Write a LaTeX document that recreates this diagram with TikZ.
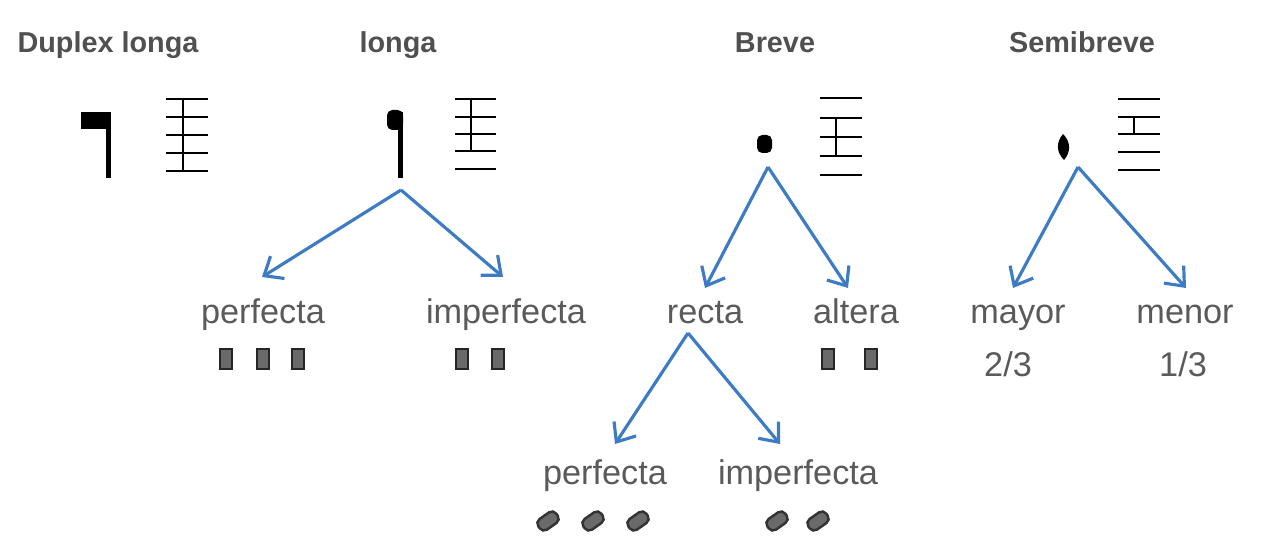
\documentclass[tikz,border=0pt]{standalone}
\usepackage{fontspec}
\setmainfont{Liberation Sans}
\usetikzlibrary{arrows.meta}
\definecolor{titlegray}{HTML}{505050}
\definecolor{labelgray}{HTML}{5A5A5A}
\definecolor{arrowblue}{HTML}{3D7CC4}
\definecolor{notegray}{HTML}{6A6A6A}

\begin{document}
\begin{tikzpicture}[x=0.02cm,y=-0.02cm,
    title/.style={text=titlegray,font=\fontsize{16.4}{19}\selectfont\bfseries,anchor=base},
    label/.style={text=labelgray,font=\fontsize{19.5}{22}\selectfont,inner sep=1pt,anchor=base},
    branch/.style={draw=arrowblue,line width=1.8pt,
      -{Straight Barb[length=9pt,width=15pt,line width=1.8pt]}},
    staffline/.style={line width=1.6pt},
    lig/.style={draw=black!85,fill=notegray,line width=1.3pt,
      minimum width=0.25cm,minimum height=0.4cm,inner sep=0pt},
    obl/.style={draw=black!80,fill=notegray,line width=1.4pt,rounded corners=3pt,
      minimum width=0.44cm,minimum height=0.26cm,inner sep=0pt,rotate=35}]
  \useasboundingbox (0,0) rectangle (1270,557);

  % titles
  \node[title] (duplex) at (108,53) {Duplex longa};
  \node[title] (longa) at (398,53) {longa};
  \node[title] (breve) at (775,53) {Breve};
  \node[title] (semibreve) at (1082,53) {Semibreve};

  % duplex longa
  \fill (81,112) rectangle (110,129);
  \fill (106,112) rectangle (111,178);
  \draw[staffline]
    \foreach \y in {99,117,135,153,171} {(166,\y) -- (208,\y)}
    (183,99) -- (183,171);

  % longa
  \fill[rounded corners=3pt] (387,130) -- (387,110) -- (403,110) -- (403,130) -- cycle;
  \fill (398,112) rectangle (403,178);
  \draw[staffline]
    \foreach \y in {99,117,134,151,169} {(455,\y) -- (496,\y)}
    (471,99) -- (471,151);
  \coordinate (longastem) at (401,190);

  % breve
  \fill[rounded corners=3pt] (757,153) -- (757,135) -- (772,135) -- (772,153) -- cycle;
  \draw[staffline]
    \foreach \y in {98,118,137,156,175} {(820,\y) -- (862,\y)}
    (836,118) -- (836,156);
  \coordinate (brevenote) at (768,167);

  % semibreve
  \fill (1063,134) .. controls (1071,142) and (1071,152) .. (1064,160)
    .. controls (1056,152) and (1056,142) .. cycle;
  \draw[staffline]
    \foreach \y in {99,117,134,152,170} {(1118,\y) -- (1160,\y)}
    (1134,117) -- (1134,134);
  \coordinate (semibrevenote) at (1078,167);

  % labels
  \node[label] (lperf) at (263,323) {perfecta};
  \node[label] (limperf) at (506,323) {imperfecta};
  \node[label] (recta) at (705,323) {recta};
  \node[label] (altera) at (856,323) {altera};
  \node[label] (mayor) at (1018,323) {mayor};
  \node[label] (menor) at (1185,323) {menor};
  \node[label] (dostercios) at (1008,376) {2/3};
  \node[label] (untercio) at (1183,376) {1/3};
  \node[label] (rperf) at (605,484) {perfecta};
  \node[label] (rimperf) at (798,484) {imperfecta};
  \coordinate (rectafoot) at (688,333);

  % branches
  \draw[branch] (longastem) -- (262,277);
  \draw[branch] (longastem) -- (503,277);
  \draw[branch] (brevenote) -- (705,288);
  \draw[branch] (brevenote) -- (848,288);
  \draw[branch] (semibrevenote) -- (1013,288);
  \draw[branch] (semibrevenote) -- (1186,288);
  \draw[branch] (rectafoot) -- (615,444);
  \draw[branch] (rectafoot) -- (780,444);

  % ligature notes
  \foreach \x in {226,263,298} {\node[lig] at (\x,359) {};}
  \foreach \x in {462,498} {\node[lig] at (\x,359) {};}
  \foreach \x in {828,871} {\node[lig] at (\x,359) {};}
  \foreach \x in {548,593,638,777,818} {\node[obl] at (\x,521) {};}
\end{tikzpicture}
\end{document}
